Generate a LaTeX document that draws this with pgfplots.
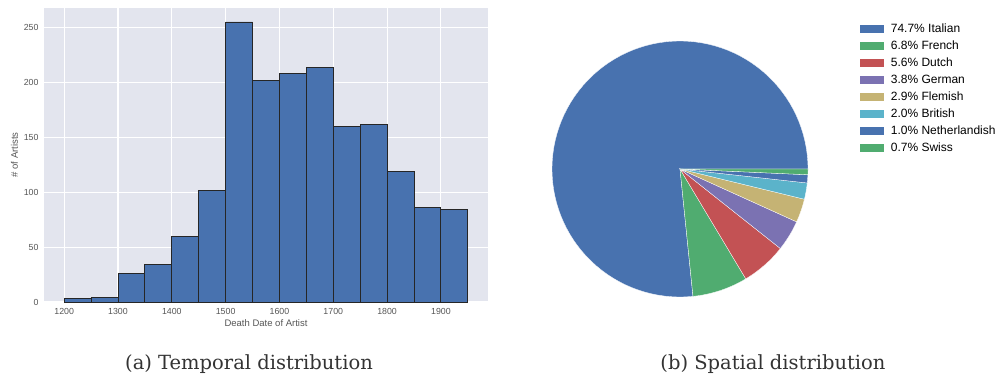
\documentclass[border=0pt]{standalone}
\usepackage{pgfplots}
\pgfplotsset{compat=1.18}
\usepackage{fontspec}
\setmainfont{Liberation Sans}
\newfontfamily\capfont{DejaVu Serif}

\definecolor{bggrid}{HTML}{E3E5EE}
\definecolor{sbblue}{HTML}{4872AF}
\definecolor{sbgreen}{HTML}{50AC70}
\definecolor{sbred}{HTML}{C35254}
\definecolor{sbpurple}{HTML}{7B72B2}
\definecolor{sbkhaki}{HTML}{C5B374}
\definecolor{sbcyan}{HTML}{5BB3CA}
\definecolor{ticklab}{HTML}{555555}

% one wedge of the pie, from cumulative share #1 to #2 (percent of 97.5)
\newcommand{\pieslice}[3]{%
  \addplot[fill=#3, draw=white, line width=0.3pt, domain={#1*360/97.5}:{#2*360/97.5}, samples=90]
    ({cos(x)},{sin(x)}) -- (0,0) -- cycle;}

\begin{document}
\begin{tikzpicture}
\useasboundingbox (0pt,0pt) rectangle (1000pt,378pt);

% ---------------- (a) histogram of death dates ----------------
\begin{axis}[
  at={(44pt,76pt)}, anchor=south west,
  scale only axis, width=444pt, height=294pt,
  xmin=1162.5, xmax=1987.5, ymin=0, ymax=267.75,
  axis background/.style={fill=bggrid},
  axis line style={draw=none},
  grid=major, major grid style={white, line width=1.1pt},
  major tick length=0pt,
  xtick={1200,1300,...,1900}, ytick={0,50,...,250},
  /pgf/number format/assume math mode=true,
  /pgf/number format/set thousands separator={},
  tick label style={font=\fontsize{8.8}{10}\selectfont, text=ticklab},
  xticklabel style={yshift=-3pt},
  yticklabel style={xshift=-2pt},
  xlabel={Death Date of Artist}, ylabel={\# of Artists},
  label style={font=\fontsize{9.5}{11}\selectfont, text=ticklab},
  xlabel style={yshift=2pt},
  ylabel style={yshift=-1pt},
]
\addplot[ybar interval, fill=sbblue, draw=black!85, line width=0.9pt] coordinates {
  (1200,3) (1250,4) (1300,26) (1350,34) (1400,60) (1450,102)
  (1500,255) (1550,202) (1600,208) (1650,214) (1700,160) (1750,162)
  (1800,119) (1850,86) (1900,84) (1950,0)
};
\end{axis}

% ---------------- (b) pie of nationalities ----------------
\begin{axis}[
  at={(680pt,209pt)}, anchor=center,
  scale only axis, width=256pt, height=256pt,
  xmin=-1, xmax=1, ymin=-1, ymax=1,
  hide axis,
  legend image code/.code={\fill[#1, draw=none] (0pt,-4pt) rectangle (24pt,4pt);},
  legend cell align=left,
  legend style={at={(1.19,1.085)}, anchor=north west, draw=none, fill=none,
    font=\fontsize{12}{14}\selectfont, row sep=2.9pt,
    /tikz/every odd column/.append style={column sep=5pt}},
]
\pieslice{0}{74.7}{sbblue}      \addlegendentry{74.7\% Italian}
\pieslice{74.7}{81.5}{sbgreen}  \addlegendentry{6.8\% French}
\pieslice{81.5}{87.1}{sbred}    \addlegendentry{5.6\% Dutch}
\pieslice{87.1}{90.9}{sbpurple} \addlegendentry{3.8\% German}
\pieslice{90.9}{93.8}{sbkhaki}  \addlegendentry{2.9\% Flemish}
\pieslice{93.8}{95.8}{sbcyan}   \addlegendentry{2.0\% British}
\pieslice{95.8}{96.8}{sbblue}   \addlegendentry{1.0\% Netherlandish}
\pieslice{96.8}{97.5}{sbgreen}  \addlegendentry{0.7\% Swiss}
\end{axis}

% ---------------- captions ----------------
\node[font=\capfont\fontsize{19.5}{22}\selectfont, text=black!80] at (249pt,14pt) {(a) Temporal distribution};
\node[font=\capfont\fontsize{19.5}{22}\selectfont, text=black!80] at (773pt,14pt) {(b) Spatial distribution};
\end{tikzpicture}
\end{document}
